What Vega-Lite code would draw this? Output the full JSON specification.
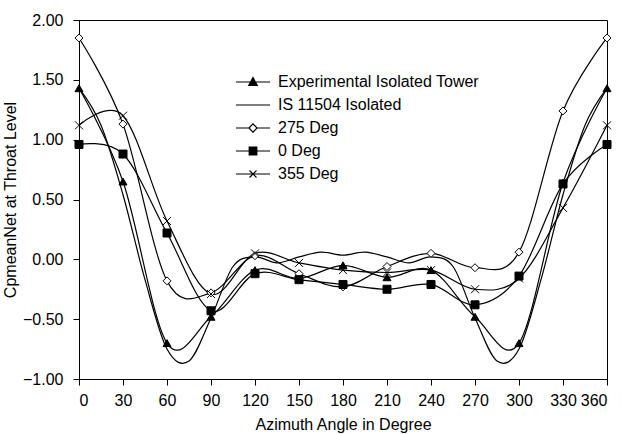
{
  "$schema": "https://vega.github.io/schema/vega-lite/v6.json",
  "width": 528,
  "height": 359,
  "autosize": {"type": "none"},
  "padding": {"left": 79, "top": 20, "right": 15, "bottom": 55},
  "background": "white",
  "config": {
    "font": "Liberation Sans",
    "view": {"stroke": "black", "strokeWidth": 1},
    "axis": {
      "domainColor": "black", "domainWidth": 1, "tickColor": "black", "tickWidth": 1, "tickSize": 6,
      "labelColor": "black", "labelFontSize": 16, "labelFont": "Liberation Sans",
      "titleColor": "black", "titleFontSize": 16, "titleFont": "Liberation Sans", "titleFontWeight": "normal",
      "grid": false
    }
  },
  "data": {"values": [
    {"series": "Experimental Isolated Tower", "angle": 0, "cp": 1.43},
    {"series": "Experimental Isolated Tower", "angle": 30, "cp": 0.65},
    {"series": "Experimental Isolated Tower", "angle": 60, "cp": -0.70},
    {"series": "Experimental Isolated Tower", "angle": 90, "cp": -0.48},
    {"series": "Experimental Isolated Tower", "angle": 120, "cp": -0.09},
    {"series": "Experimental Isolated Tower", "angle": 150, "cp": -0.16},
    {"series": "Experimental Isolated Tower", "angle": 180, "cp": -0.05},
    {"series": "Experimental Isolated Tower", "angle": 210, "cp": -0.15},
    {"series": "Experimental Isolated Tower", "angle": 240, "cp": -0.09},
    {"series": "Experimental Isolated Tower", "angle": 270, "cp": -0.48},
    {"series": "Experimental Isolated Tower", "angle": 300, "cp": -0.70},
    {"series": "Experimental Isolated Tower", "angle": 330, "cp": 0.64},
    {"series": "Experimental Isolated Tower", "angle": 360, "cp": 1.43},
    {"series": "IS 11504 Isolated", "angle": 0, "cp": 1.43},
    {"series": "IS 11504 Isolated", "angle": 15, "cp": 1.12},
    {"series": "IS 11504 Isolated", "angle": 30, "cp": 0.54},
    {"series": "IS 11504 Isolated", "angle": 45, "cp": -0.17},
    {"series": "IS 11504 Isolated", "angle": 60, "cp": -0.75},
    {"series": "IS 11504 Isolated", "angle": 75, "cp": -0.85},
    {"series": "IS 11504 Isolated", "angle": 90, "cp": -0.49},
    {"series": "IS 11504 Isolated", "angle": 105, "cp": -0.06},
    {"series": "IS 11504 Isolated", "angle": 120, "cp": 0.02},
    {"series": "IS 11504 Isolated", "angle": 135, "cp": -0.03},
    {"series": "IS 11504 Isolated", "angle": 150, "cp": 0.02},
    {"series": "IS 11504 Isolated", "angle": 165, "cp": 0.06},
    {"series": "IS 11504 Isolated", "angle": 180, "cp": 0.035},
    {"series": "IS 11504 Isolated", "angle": 195, "cp": 0.06},
    {"series": "IS 11504 Isolated", "angle": 210, "cp": 0.02},
    {"series": "IS 11504 Isolated", "angle": 225, "cp": -0.03},
    {"series": "IS 11504 Isolated", "angle": 240, "cp": 0.02},
    {"series": "IS 11504 Isolated", "angle": 255, "cp": -0.06},
    {"series": "IS 11504 Isolated", "angle": 270, "cp": -0.49},
    {"series": "IS 11504 Isolated", "angle": 285, "cp": -0.85},
    {"series": "IS 11504 Isolated", "angle": 300, "cp": -0.75},
    {"series": "IS 11504 Isolated", "angle": 315, "cp": -0.17},
    {"series": "IS 11504 Isolated", "angle": 330, "cp": 0.54},
    {"series": "IS 11504 Isolated", "angle": 345, "cp": 1.12},
    {"series": "IS 11504 Isolated", "angle": 360, "cp": 1.43},
    {"series": "275 Deg", "angle": 0, "cp": 1.85},
    {"series": "275 Deg", "angle": 30, "cp": 1.13},
    {"series": "275 Deg", "angle": 60, "cp": -0.18},
    {"series": "275 Deg", "angle": 90, "cp": -0.28},
    {"series": "275 Deg", "angle": 120, "cp": 0.03},
    {"series": "275 Deg", "angle": 150, "cp": -0.12},
    {"series": "275 Deg", "angle": 180, "cp": -0.23},
    {"series": "275 Deg", "angle": 210, "cp": -0.06},
    {"series": "275 Deg", "angle": 240, "cp": 0.05},
    {"series": "275 Deg", "angle": 270, "cp": -0.07},
    {"series": "275 Deg", "angle": 300, "cp": 0.06},
    {"series": "275 Deg", "angle": 330, "cp": 1.24},
    {"series": "275 Deg", "angle": 360, "cp": 1.85},
    {"series": "0 Deg", "angle": 0, "cp": 0.96},
    {"series": "0 Deg", "angle": 30, "cp": 0.88},
    {"series": "0 Deg", "angle": 60, "cp": 0.22},
    {"series": "0 Deg", "angle": 90, "cp": -0.43},
    {"series": "0 Deg", "angle": 120, "cp": -0.12},
    {"series": "0 Deg", "angle": 150, "cp": -0.17},
    {"series": "0 Deg", "angle": 180, "cp": -0.21},
    {"series": "0 Deg", "angle": 210, "cp": -0.25},
    {"series": "0 Deg", "angle": 240, "cp": -0.21},
    {"series": "0 Deg", "angle": 270, "cp": -0.38},
    {"series": "0 Deg", "angle": 300, "cp": -0.14},
    {"series": "0 Deg", "angle": 330, "cp": 0.63},
    {"series": "0 Deg", "angle": 360, "cp": 0.96},
    {"series": "355 Deg", "angle": 0, "cp": 1.12},
    {"series": "355 Deg", "angle": 30, "cp": 1.20},
    {"series": "355 Deg", "angle": 60, "cp": 0.32},
    {"series": "355 Deg", "angle": 90, "cp": -0.29},
    {"series": "355 Deg", "angle": 120, "cp": 0.05},
    {"series": "355 Deg", "angle": 150, "cp": -0.03},
    {"series": "355 Deg", "angle": 180, "cp": -0.09},
    {"series": "355 Deg", "angle": 210, "cp": -0.11},
    {"series": "355 Deg", "angle": 240, "cp": -0.09},
    {"series": "355 Deg", "angle": 270, "cp": -0.25},
    {"series": "355 Deg", "angle": 300, "cp": -0.16},
    {"series": "355 Deg", "angle": 330, "cp": 0.43},
    {"series": "355 Deg", "angle": 360, "cp": 1.12}
  ]},
  "encoding": {
    "x": {"field": "angle", "type": "quantitative",
          "scale": {"domain": [0, 360], "nice": false},
          "axis": {"values": [0, 30, 60, 90, 120, 150, 180, 210, 240, 270, 300, 330, 360], "title": "Azimuth Angle in Degree", "labelPadding": 7, "titlePadding": 8}},
    "y": {"field": "cp", "type": "quantitative",
          "scale": {"domain": [-1, 2], "nice": false, "zero": false},
          "axis": {"values": [-1, -0.5, 0, 0.5, 1, 1.5, 2], "format": ".2f", "title": "CpmeanNet at Throat Level", "labelPadding": 10, "titlePadding": 4}}
  },
  "layer": [
    {
      "mark": {"type": "line", "interpolate": "cardinal", "color": "black", "strokeWidth": 1.2},
      "encoding": {"detail": {"field": "series"}}
    },
    {
      "transform": [{"filter": "datum.series !== 'IS 11504 Isolated'"}],
      "mark": {"type": "point", "filled": true, "stroke": "black", "strokeWidth": 1, "size": 64, "opacity": 1},
      "encoding": {
        "shape": {"field": "series", "type": "nominal",
          "scale": {"domain": ["Experimental Isolated Tower", "IS 11504 Isolated", "275 Deg", "0 Deg", "355 Deg"],
                    "range": ["triangle-up", "circle", "diamond", "square", "M-1,-1L1,1M-1,1L1,-1"]},
          "legend": null},
        "fill": {"field": "series", "type": "nominal",
          "scale": {"domain": ["Experimental Isolated Tower", "IS 11504 Isolated", "275 Deg", "0 Deg", "355 Deg"],
                    "range": ["black", "transparent", "white", "black", "transparent"]},
          "legend": null}
      }
    },
    {
      "mark": {"type": "point", "filled": false, "color": "black", "strokeWidth": 1.2, "size": 0, "opacity": 1},
      "encoding": {
        "shape": {"field": "series", "type": "nominal",
          "scale": {"domain": ["Experimental Isolated Tower", "IS 11504 Isolated", "275 Deg", "0 Deg", "355 Deg"],
                    "range": [
                      "M-5.4,0H5.4M0,-1.4L1.35,1.05H-1.35ZM-0.14,-1.15H0.14M-0.28,-0.9H0.28M-0.41,-0.65H0.41M-0.55,-0.4H0.55M-0.69,-0.15H0.69M-0.83,0.1H0.83M-0.96,0.35H0.96M-1.1,0.6H1.1M-1.24,0.85H1.24",
                      "M-5.4,0H5.4",
                      "M-5.4,0H-1.3M1.3,0H5.4M0,-1.3L1.3,0L0,1.3L-1.3,0Z",
                      "M-5.4,0H5.4M-1.2,-1.2H1.2V1.2H-1.2ZM-1.2,-0.95H1.2M-1.2,-0.7H1.2M-1.2,-0.45H1.2M-1.2,-0.2H1.2M-1.2,0.25H1.2M-1.2,0.5H1.2M-1.2,0.75H1.2M-1.2,1H1.2",
                      "M-5.4,0H5.4M-1.1,-1.1L1.1,1.1M-1.1,1.1L1.1,-1.1"
                    ]},
          "legend": {
            "title": null, "orient": "none", "legendX": 166, "legendY": 54,
            "labelFontSize": 16, "labelFont": "Liberation Sans", "labelColor": "black", "labelLimit": 0,
            "symbolSize": 40, "labelOffset": 17, "rowPadding": 7,
            "symbolStrokeColor": "black", "symbolStrokeWidth": 1.2, "symbolOpacity": 1
          }
        }
      }
    }
  ],
  "resolve": {"scale": {"shape": "independent", "fill": "independent"}}
}
